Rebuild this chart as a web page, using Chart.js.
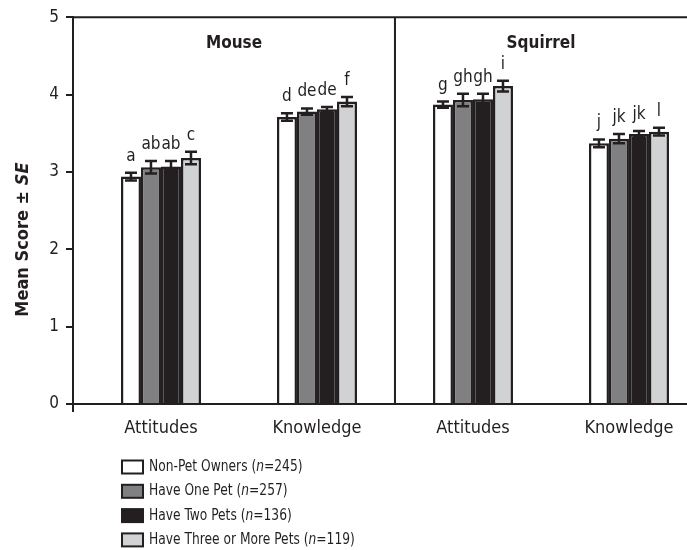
<!DOCTYPE html>
<html>
<head>
<meta charset="utf-8">
<script src="https://cdn.jsdelivr.net/npm/chart.js@4"></script>
<style>
  body { margin: 0; background: #fff; }
  canvas { display: block; }
</style>
</head>
<body>
<canvas id="chart" width="687" height="550"></canvas>
<script>
const FONT = "'Liberation Sans Narrow', 'DejaVu Sans Condensed', Arial, sans-serif";
const INK = "#231f20";

// categories along x (two per panel)
const categories = ["Attitudes", "Knowledge", "Attitudes", "Knowledge"];
const panels = ["Mouse", "Squirrel"];

// groups and sample sizes
const groups = ["Non-Pet Owners", "Have One Pet", "Have Two Pets", "Have Three or More Pets"];
const groupN = [245, 257, 136, 119];
const groupColors = ["#ffffff", "#808083", "#231f20", "#d1d2d4"];

// mean scores
const nonPet = [2.94, 3.71, 3.87, 3.37];
const onePet = [3.06, 3.78, 3.93, 3.43];
const twoPets = [3.07, 3.81, 3.94, 3.49];
const threePlus = [3.18, 3.91, 4.11, 3.52];

// standard errors
const nonPetSE = [0.05, 0.05, 0.04, 0.05];
const onePetSE = [0.08, 0.04, 0.08, 0.06];
const twoPetsSE = [0.07, 0.03, 0.07, 0.04];
const threePlusSE = [0.08, 0.06, 0.07, 0.05];

// significance letters
const nonPetLetters = ["a", "d", "g", "j"];
const onePetLetters = ["ab", "de", "gh", "jk"];
const twoPetsLetters = ["ab", "de", "gh", "jk"];
const threePlusLetters = ["c", "f", "i", "l"];

const yTicks = [0, 1, 2, 3, 4, 5];

const seriesValues = [nonPet, onePet, twoPets, threePlus];
const seriesSE = [nonPetSE, onePetSE, twoPetsSE, threePlusSE];
const seriesLetters = [nonPetLetters, onePetLetters, twoPetsLetters, threePlusLetters];

const extras = {
  id: "extras",
  afterDatasetsDraw(chart) {
    const ctx = chart.ctx;
    const y = chart.scales.y;
    ctx.save();
    ctx.strokeStyle = INK;
    ctx.fillStyle = INK;

    // error bars + letters
    chart.data.datasets.forEach((ds, i) => {
      const meta = chart.getDatasetMeta(i);
      meta.data.forEach((bar, j) => {
        const v = seriesValues[i][j];
        const se = seriesSE[i][j];
        const top = y.getPixelForValue(v + se);
        const bot = y.getPixelForValue(v - se);
        ctx.lineWidth = 2.5;
        ctx.beginPath();
        ctx.moveTo(bar.x, top);
        ctx.lineTo(bar.x, bot);
        ctx.moveTo(bar.x - 6, top);
        ctx.lineTo(bar.x + 6, top);
        ctx.moveTo(bar.x - 6, bot);
        ctx.lineTo(bar.x + 6, bot);
        ctx.stroke();

        ctx.font = "17px " + FONT;
        ctx.textAlign = "center";
        ctx.textBaseline = "alphabetic";
        ctx.fillText(seriesLetters[i][j], bar.x, top - 12);
      });
    });
    ctx.restore();
  },
  afterDraw(chart) {
    const ctx = chart.ctx;
    const area = chart.chartArea;
    const x = chart.scales.x;
    ctx.save();
    ctx.strokeStyle = INK;
    ctx.fillStyle = INK;
    ctx.lineWidth = 2;

    // frame top, divider, y axis overhang
    const mid = x.getPixelForValue(1.5);
    ctx.beginPath();
    ctx.moveTo(area.left, area.top);
    ctx.lineTo(area.right, area.top);
    ctx.moveTo(mid, area.top);
    ctx.lineTo(mid, area.bottom);
    ctx.moveTo(area.left, area.bottom);
    ctx.lineTo(area.left, area.bottom + 8);
    ctx.stroke();

    // panel titles
    ctx.font = "bold 17px " + FONT;
    ctx.textAlign = "center";
    ctx.textBaseline = "middle";
    ctx.fillText(panels[0], (area.left + mid) / 2, area.top + 26);
    ctx.fillText(panels[1], (mid + area.right) / 2, area.top + 26);

    // y title: Mean Score ± SE
    ctx.save();
    ctx.translate(23, (area.top + area.bottom) / 2 + 29);
    ctx.rotate(-Math.PI / 2);
    ctx.textBaseline = "middle";
    ctx.textAlign = "left";
    const p1 = "Mean Score \u00b1 ";
    const p2 = "SE";
    ctx.font = "bold 18px " + FONT;
    const w1 = ctx.measureText(p1).width;
    ctx.font = "italic bold 18px " + FONT;
    const w2 = ctx.measureText(p2).width;
    const sx = -(w1 + w2) / 2;
    ctx.font = "bold 18px " + FONT;
    ctx.fillText(p1, sx, 0);
    ctx.font = "italic bold 18px " + FONT;
    ctx.fillText(p2, sx + w1, 0);
    ctx.restore();

    // legend (text squeezed a little to mimic a condensed face)
    groups.forEach((g, i) => {
      const ly = 467 + i * 24.3;
      ctx.fillStyle = groupColors[i];
      ctx.fillRect(122, ly - 6.5, 21, 13);
      ctx.strokeStyle = INK;
      ctx.lineWidth = 2;
      ctx.strokeRect(122, ly - 6.5, 21, 13);
      ctx.fillStyle = INK;
      ctx.textAlign = "left";
      ctx.textBaseline = "middle";
      ctx.save();
      ctx.translate(149, ly);
      ctx.scale(0.88, 1);
      let tx = 0;
      const parts = [[g + " (", ""], ["n", "italic "], ["=" + groupN[i] + ")", ""]];
      parts.forEach(([t, st]) => {
        ctx.font = st + "15.5px " + FONT;
        ctx.fillText(t, tx, 0);
        tx += ctx.measureText(t).width;
      });
      ctx.restore();
    });
    ctx.restore();
  }
};

new Chart(document.getElementById("chart"), {
  type: "bar",
  data: {
    datasets: groups.map((g, i) => ({
      label: g,
      data: seriesValues[i].map((v, j) => ({ x: j, y: v })),
      backgroundColor: groupColors[i],
      borderColor: INK,
      borderWidth: 2.5,
      categoryPercentage: 0.513,
      barPercentage: 1.0
    }))
  },
  options: {
    responsive: false,
    animation: false,
    layout: { padding: { top: 14, right: 0, left: 0, bottom: 0 } },
    plugins: { legend: { display: false }, tooltip: { enabled: false } },
    scales: {
      x: {
        type: "linear",
        offset: false,
        min: -0.564,
        max: 3.372,
        grid: { display: false, offset: false },
        border: { display: true, color: INK, width: 2 },
        afterBuildTicks: s => { s.ticks = categories.map((c, i) => ({ value: i })); },
        afterFit: s => { s.height = 146; },
        ticks: {
          callback: v => categories[v],
          font: { family: FONT, size: 18 },
          color: INK,
          padding: 6,
          maxRotation: 0,
          autoSkip: false
        }
      },
      y: {
        min: 0,
        max: 5,
        afterBuildTicks: s => { s.ticks = yTicks.map(v => ({ value: v })); },
        afterFit: s => { s.width = 73; },
        grid: { drawOnChartArea: false, drawTicks: true, tickLength: 7, color: INK, lineWidth: 2 },
        border: { display: true, color: INK, width: 2 },
        ticks: {
          font: { family: FONT, size: 17 },
          color: INK,
          padding: 7
        }
      }
    }
  },
  plugins: [extras]
});
</script>
</body>
</html>
